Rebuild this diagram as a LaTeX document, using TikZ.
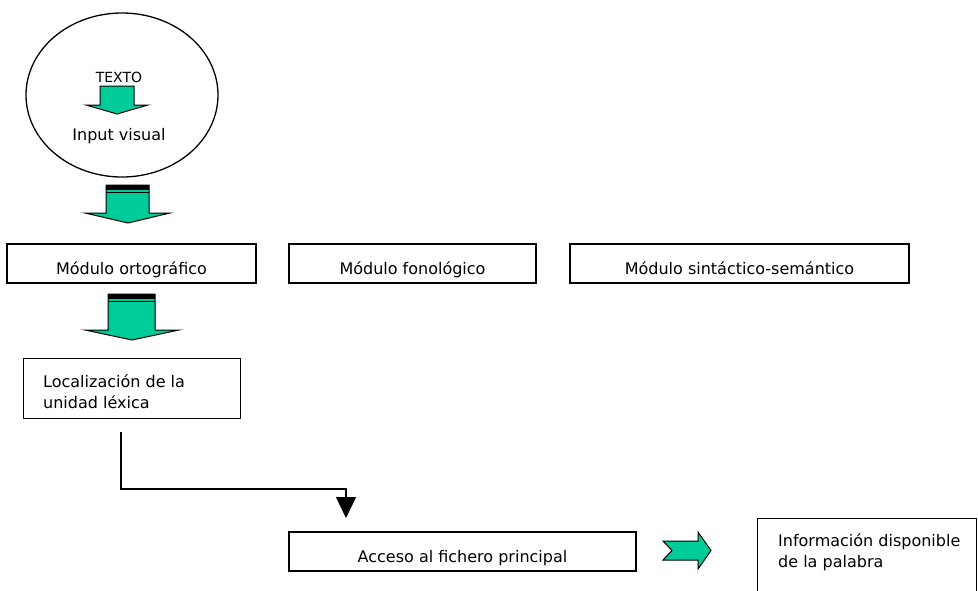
\documentclass[tikz,border=0pt]{standalone}
\usepackage{fontspec}
\setmainfont{DejaVu Sans}
\usetikzlibrary{shapes.geometric,arrows.meta}
\definecolor{arrowgreen}{RGB}{0,204,153}
\begin{document}
\begin{tikzpicture}[x=1pt,y=-1pt,
  font=\fontsize{16}{20}\selectfont,
  box/.style={draw, line width=1.3pt, inner sep=0pt, text height=30pt, text depth=9pt},
  plainbox/.style={draw, line width=1.3pt, inner sep=0pt, anchor=north west},
  txt/.style={inner sep=0pt, anchor=base west, align=left, font=\fontsize{16}{20.5}\selectfont},
  greenarrow/.style={fill=arrowgreen, draw=black, line width=1pt, line join=miter},
  conn/.style={line width=1.3pt}]
\useasboundingbox (0,0) rectangle (978,590);
\begin{scope}
\clip (0,0) rectangle (978,590);

% ellipse
\node[draw, ellipse, line width=1.3pt, minimum width=192pt, minimum height=164pt, inner sep=0pt] (eye) at (122,95) {};
\node[inner sep=0pt, anchor=base, font=\fontsize{14}{16}\selectfont] (texto) at (119,82) {TEXTO};
\node[inner sep=0pt, anchor=base] (input) at (119,140) {Input visual};
\draw[greenarrow] (100,86) -- (134,86) -- (134,105) -- (148,105) -- (117,114) -- (86,105) -- (100,105) -- cycle;

% big arrow 1
\draw[greenarrow] (106,185) -- (149,185) -- (149,213) -- (170,213) -- (128,223) -- (85,213) -- (106,213) -- cycle;
\fill (106,185) rectangle (149,189.5);
\draw[line width=1pt] (106,192) -- (149,192);

% module row
\node[box, minimum width=249pt, minimum height=39pt] (orto) at (131.5,263.5) {Módulo ortográfico};
\node[box, minimum width=247pt, minimum height=39pt] (fono) at (412.5,263.5) {Módulo fonológico};
\node[box, minimum width=339pt, minimum height=39pt] (sint) at (739.5,263.5) {Módulo sintáctico-semántico};

% big arrow 2
\draw[greenarrow] (108,294) -- (155,294) -- (155,330) -- (179,330) -- (132,340) -- (85,330) -- (108,330) -- cycle;
\fill (108,294) rectangle (155,298.5);
\draw[line width=1pt] (108,301) -- (155,301);

% localizacion
\node[plainbox, minimum width=217pt, minimum height=60pt] (loc) at (23,358) {};
\node[txt] (loctxt) at (43,408) {Localización de la\\unidad léxica};

% connector
\coordinate (c1) at (121,432);
\coordinate (c3) at (346,489);
\coordinate (c2) at (346,518);
\draw[conn, -{Triangle[width=20pt,length=21pt]}] (c1) |- (c3) -- (c2);

% acceso
\node[box, minimum width=347pt, minimum height=39pt] (acc) at (462.5,551.5) {Acceso al fichero principal};

% right arrow
\draw[greenarrow] (663,541) -- (698,541) -- (698,532) -- (711,550.5) -- (698,569) -- (698,560) -- (663,560) -- (672,550.5) -- cycle;

% informacion
\node[plainbox, minimum width=219pt, minimum height=100pt] (info) at (757,518) {};
\node[txt] (infotxt) at (778,567) {Información disponible\\de la palabra};
\end{scope}
\end{tikzpicture}
\end{document}
